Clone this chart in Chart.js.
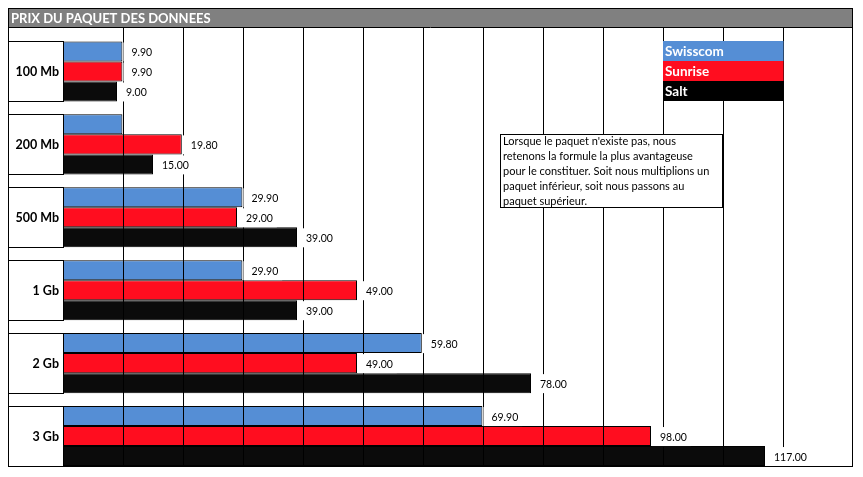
<!DOCTYPE html>
<html>
<head>
<meta charset="utf-8">
<script src="https://cdn.jsdelivr.net/npm/chart.js@4.4.1/dist/chart.umd.min.js"></script>
<style>
html,body{margin:0;padding:0;background:#fff;}
#wrap{width:863px;height:477px;position:relative;}
</style>
</head>
<body>
<div id="wrap"><canvas id="c" width="863" height="477"></canvas></div>
<script>
const title = 'PRIX DU PAQUET DES DONNEES';
const categories = ['100 Mb', '200 Mb', '500 Mb', '1 Gb', '2 Gb', '3 Gb'];
const seriesNames = ['Swisscom', 'Sunrise', 'Salt'];
const swisscom = [9.90, 9.90, 29.90, 29.90, 59.80, 69.90];
const sunrise = [9.90, 19.80, 29.00, 49.00, 49.00, 98.00];
const salt = [9.00, 15.00, 39.00, 39.00, 78.00, 117.00];
// value labels shown on the chart (null = not shown)
const swisscomLabels = ['9.90', null, '29.90', '29.90', '59.80', '69.90'];
const sunriseLabels = ['9.90', '19.80', '29.00', '49.00', '49.00', '98.00'];
const saltLabels = ['9.00', '15.00', '39.00', '39.00', '78.00', '117.00'];
const noteLines = [
  "Lorsque le paquet n'existe pas, nous",
  'retenons la formule la plus avantageuse',
  'pour le constituer. Soit nous multiplions un',
  'paquet inférieur, soit nous passons au',
  'paquet supérieur.'
];
const colors = ['#558ED5', '#FF0D1F', '#0B0B0B'];
const valueLabels = [swisscomLabels, sunriseLabels, saltLabels];

const FRAME = {l: 8, t: 8, r: 852, b: 466, titleB: 27};

const decor = {
  id: 'decor',
  beforeDraw(chart) {
    const ctx = chart.ctx;
    ctx.save();
    ctx.fillStyle = '#fff';
    ctx.fillRect(0, 0, chart.width, chart.height);
    ctx.restore();
  },
  afterDatasetsDraw(chart) {
    const ctx = chart.ctx;
    const xs = chart.scales.x;
    ctx.save();
    ctx.strokeStyle = '#000';
    ctx.lineWidth = 1;
    xs.ticks.forEach(t => {
      if (t.value <= 0 || t.value > 120) return;
      const px = Math.round(xs.getPixelForValue(t.value)) + 0.5;
      ctx.beginPath();
      ctx.moveTo(px, FRAME.titleB);
      ctx.lineTo(px, FRAME.b);
      ctx.stroke();
    });
    ctx.restore();
  },
  afterDraw(chart) {
    const ctx = chart.ctx;
    const metas = [0, 1, 2].map(i => chart.getDatasetMeta(i));
    ctx.save();
    // white-out below frame
    ctx.fillStyle = '#fff';
    ctx.fillRect(0, FRAME.b + 1, chart.width, chart.height - FRAME.b);
    ctx.fillRect(FRAME.r + 1, 0, chart.width - FRAME.r, chart.height);

    // value labels
    ctx.font = '10.5px Lato';
    ctx.textBaseline = 'middle';
    ctx.textAlign = 'left';
    metas.forEach((m, d) => {
      m.data.forEach((bar, i) => {
        const lab = valueLabels[d][i];
        if (!lab) return;
        const h = bar.height;
        const w = ctx.measureText(lab).width;
        ctx.fillStyle = '#fff';
        ctx.fillRect(bar.x + 1, bar.y - h / 2 + 1, w + 12, h - 1);
        ctx.fillStyle = '#000';
        ctx.fillText(lab, bar.x + 9, bar.y + 1.5);
      });
    });

    // category label boxes
    ctx.strokeStyle = '#000';
    ctx.lineWidth = 1;
    categories.forEach((c, i) => {
      const top = metas[0].data[i].y - metas[0].data[i].height / 2;
      const bot = metas[2].data[i].y + metas[2].data[i].height / 2;
      const left = FRAME.l;
      const right = chart.chartArea.left;
      ctx.strokeRect(left + 0.5, Math.round(top) + 0.5, right - left, Math.round(bot - top));
      ctx.fillStyle = '#000';
      ctx.font = 'bold 12.5px Lato';
      ctx.textAlign = 'right';
      ctx.textBaseline = 'middle';
      ctx.fillText(c, right - 4, (top + bot) / 2 + 1);
    });

    // legend
    const xs = chart.scales.x;
    const lx0 = xs.getPixelForValue(100), lx1 = xs.getPixelForValue(120);
    seriesNames.forEach((n, i) => {
      const y0 = 41 + i * 20;
      ctx.fillStyle = i === 2 ? '#000' : colors[i];
      ctx.fillRect(lx0, y0, lx1 - lx0 + 0.5, 20);
      ctx.fillStyle = '#fff';
      ctx.font = 'bold 13.5px Lato';
      ctx.textAlign = 'left';
      ctx.textBaseline = 'middle';
      ctx.fillText(n, lx0 + 2, y0 + 10.5);
    });

    // note box
    ctx.fillStyle = '#fff';
    ctx.fillRect(500, 134, 222, 73);
    ctx.strokeStyle = '#000';
    ctx.strokeRect(500.5, 134.5, 222, 73);
    ctx.fillStyle = '#000';
    ctx.font = '11px Lato';
    ctx.textAlign = 'left';
    ctx.textBaseline = 'middle';
    noteLines.forEach((l, i) => ctx.fillText(l, 503, 141 + i * 15));

    // title bar + frame
    ctx.fillStyle = '#808080';
    ctx.fillRect(FRAME.l, FRAME.t, FRAME.r - FRAME.l, FRAME.titleB - FRAME.t);
    ctx.strokeStyle = '#000';
    ctx.strokeRect(FRAME.l + 0.5, FRAME.t + 0.5, FRAME.r - FRAME.l, FRAME.b - FRAME.t);
    ctx.beginPath();
    ctx.moveTo(FRAME.l, FRAME.titleB + 0.5);
    ctx.lineTo(FRAME.r + 1, FRAME.titleB + 0.5);
    ctx.stroke();
    ctx.fillStyle = '#fff';
    ctx.font = 'bold 13px Lato';
    ctx.textAlign = 'left';
    ctx.textBaseline = 'middle';
    ctx.fillText(title, 11, 18.5);
    ctx.restore();
  }
};

new Chart(document.getElementById('c'), {
  type: 'bar',
  data: {
    labels: categories,
    datasets: [swisscom, sunrise, salt].map((d, i) => ({
      label: seriesNames[i],
      data: d,
      backgroundColor: colors[i],
      borderColor: '#000',
      borderWidth: 1,
      borderSkipped: false,
      categoryPercentage: 0.823,
      barPercentage: 1
    }))
  },
  options: {
    indexAxis: 'y',
    responsive: false,
    animation: false,
    events: [],
    layout: {padding: {left: 63, right: 11, top: 35, bottom: 4.5}},
    scales: {
      x: {
        type: 'linear', min: 0, max: 131.5,
        ticks: {display: false, stepSize: 10},
        grid: {display: false, drawTicks: false},
        border: {display: false},
        afterFit(s) { s.height = 0; }
      },
      y: {display: false}
    },
    plugins: {legend: {display: false}, tooltip: {enabled: false}}
  },
  plugins: [decor]
});
</script>
</body>
</html>
